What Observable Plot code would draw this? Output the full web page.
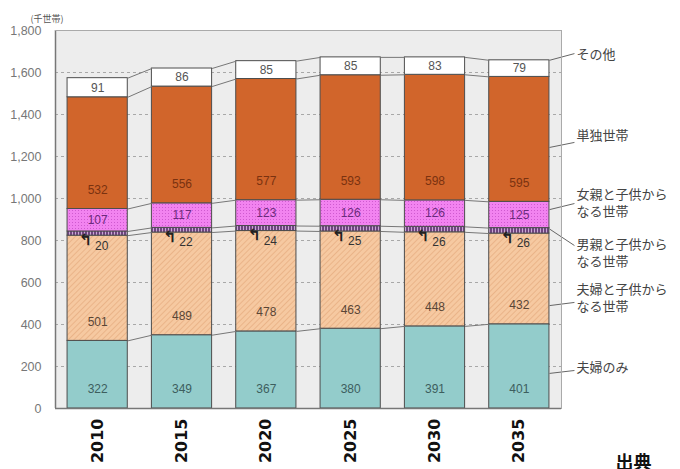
<!DOCTYPE html>
<html>
<head>
<meta charset="utf-8">
<script src="https://cdn.jsdelivr.net/npm/d3@7"></script>
<script src="https://cdn.jsdelivr.net/npm/@observablehq/plot@0.6"></script>
<style>
  html, body { margin: 0; padding: 0; background: #fff; }
  #chart { width: 680px; height: 469px; overflow: hidden; }
</style>
</head>
<body>
<div id="chart"></div>
<script>
// ---- data ----
const years = ["2010", "2015", "2020", "2025", "2030", "2035"];
const fufuOnly   = [322, 349, 367, 380, 391, 401];
const fufuKids   = [501, 489, 478, 463, 448, 432];
const fatherKids = [20, 22, 24, 25, 26, 26];
const motherKids = [107, 117, 123, 126, 126, 125];
const single     = [532, 556, 577, 593, 598, 595];
const other      = [91, 86, 85, 85, 83, 79];
const seriesNames = ["夫婦のみ", "夫婦と子供から\nなる世帯", "男親と子供から\nなる世帯", "女親と子供から\nなる世帯", "単独世帯", "その他"];
const yTicks = [0, 200, 400, 600, 800, 1000, 1200, 1400, 1600, 1800];
const unitLabel = "(千世帯)";
const sourceLabel = "出典";

const seriesValues = [fufuOnly, fufuKids, fatherKids, motherKids, single, other];

// ---- styles (per series, same order) ----
const styles = [
  {fill: "#93cccb", label: "#3d5e5e", mode: "base"},
  {fill: "url(#hatch)", label: "#5a4636", mode: "base"},
  {fill: "url(#male)", label: "#333333", mode: "below"},
  {fill: "url(#dots)", label: "#6b2a7c", mode: "middle"},
  {fill: "#d1652b", label: "#7a3210", mode: "base"},
  {fill: "#ffffff", label: "#555555", mode: "middle"}
];
// right-hand legend: leader start (value within last bar), leader end and text (data units)
const legendPos = [
  {from: 167, to: 181, text: 195},
  {from: 490, to: 505, text: 524},
  {from: 855, to: 776, text: 738},
  {from: 947, to: 976, text: 976},
  {from: 1243, to: 1267, text: 1300},
  {from: null, to: 1690, text: 1684}
];

// ---- derived table ----
const segments = [];
years.forEach((year, i) => {
  let cum = 0;
  seriesValues.forEach((vals, s) => {
    const v = vals[i];
    segments.push({i, year, s, value: v, y1: cum, y2: cum + v});
    cum += v;
  });
});
const hw = 0.357; // half bar width in band units
const seg = (i, s) => segments.find(d => d.i === i && d.s === s);

const connectors = [];
for (let i = 0; i < years.length - 1; i++) {
  for (let s = 0; s < seriesValues.length; s++) {
    connectors.push({x1: i + hw, x2: i + 1 - hw, y1: seg(i, s).y2, y2: seg(i + 1, s).y2});
  }
}

const last = years.length - 1;
const pxUnit = 1 / ((561 - 55) / years.length);
const legend = seriesNames.map((name, s) => ({
  name,
  from: legendPos[s].from == null ? seg(last, s).y2 : legendPos[s].from,
  to: legendPos[s].to,
  text: legendPos[s].text
}));
const legendLines = [];
legend.forEach(d => {
  const parts = d.name.split("\n");
  parts.forEach((t, k) => legendLines.push({t, y: d.text, off: (k - (parts.length - 1) / 2) * 17}));
});

const cjk = "'Noto Sans CJK JP', 'Noto Sans', sans-serif";

const marks = [
  Plot.frame({fill: "#ededed", stroke: null}),
  Plot.gridY(yTicks.filter(t => t > 0 && t < 1800), {stroke: "#a8a8a8", strokeOpacity: 1, strokeDasharray: "3,3"}),
  ...styles.map((st, s) => Plot.rect(segments.filter(d => d.s === s), {
    x1: d => d.i - hw, x2: d => d.i + hw, y1: "y1", y2: "y2",
    fill: st.fill, stroke: "#4d4d4d", strokeWidth: 1
  })),
  Plot.link(connectors, {x1: "x1", x2: "x2", y1: "y1", y2: "y2", stroke: "#777", strokeWidth: 1}),
  // value labels
  ...styles.map((st, s) => {
    const data = segments.filter(d => d.s === s);
    if (st.mode === "base") return Plot.text(data, {x: "i", y: "y1", dy: -19, text: d => String(d.value), fill: st.label, fontSize: 12});
    if (st.mode === "middle") return Plot.text(data, {x: "i", y: d => (d.y1 + d.y2) / 2, text: d => String(d.value), fill: st.label, fontSize: 12});
    return Plot.text(data, {x: "i", y: "y1", dy: 10, dx: 4, text: d => String(d.value), fill: st.label, fontSize: 12});
  }),
  Plot.text(segments.filter(d => d.s === 2), {x: "i", y: "y1", dx: -12, dy: 4, text: () => "↰", fill: "#222", fontSize: 16, fontWeight: "bold", fontFamily: "DejaVu Sans"}),
  // legend leaders and texts
  Plot.link(legend, {x1: last + hw, x2: last + hw + 25 * pxUnit, y1: "from", y2: "to", stroke: "#666", strokeWidth: 1}),
  ...legendLines.map(l => Plot.text([l], {x: last + hw + 27 * pxUnit, y: "y", dy: l.off, text: "t", textAnchor: "start", fontSize: 13, fill: "#444", fontFamily: cjk})),
  // axes
  Plot.axisY(yTicks, {tickSize: 0, tickPadding: 14, tickFormat: d3.format(","), fontSize: 12.5, fill: "#777", label: null}),
  Plot.axisX(d3.range(years.length), {tickSize: 0, tickPadding: 10, tickRotate: -90, tickFormat: i => years[i], fontSize: 16, fontWeight: "bold", fill: "#111", label: null, fontFamily: "'DejaVu Sans', sans-serif"}),
  Plot.ruleX([-0.5], {stroke: "#777", strokeWidth: 1.5}),
  Plot.ruleY([0], {stroke: "#777", strokeWidth: 1.5}),
  Plot.frame({stroke: "#aaa", anchor: "top"}),
  Plot.frame({stroke: "#aaa", anchor: "right"}),
  Plot.text([unitLabel], {frameAnchor: "top-left", dx: -25, dy: -15, fontSize: 9, fill: "#555", fontFamily: cjk}),
  Plot.text([sourceLabel], {frameAnchor: "bottom-right", dx: 90, dy: 60, fontSize: 18, fontWeight: "bold", fill: "#111", fontFamily: cjk})
];

const chart = Plot.plot({
  width: 680,
  height: 469,
  marginTop: 30,
  marginBottom: 61,
  marginLeft: 55,
  marginRight: 119,
  x: {type: "linear", domain: [-0.5, years.length - 0.5], axis: null},
  y: {domain: [0, 1800], axis: null},
  style: {fontFamily: "'Liberation Sans', Arial, sans-serif", background: "white", overflow: "visible"},
  marks
});

d3.select(chart).insert("defs", ":first-child").html(`
  <pattern id="hatch" width="4" height="4" patternUnits="userSpaceOnUse" patternTransform="rotate(45)">
    <rect width="4" height="4" fill="#f6c9a1"/>
    <line x1="0" y1="0" x2="0" y2="4" stroke="#e3a678" stroke-width="1.2"/>
  </pattern>
  <pattern id="dots" width="3" height="3" patternUnits="userSpaceOnUse">
    <rect width="3" height="3" fill="#f283f0"/>
    <rect width="1" height="1" fill="#cf5ad0"/>
  </pattern>
  <pattern id="male" width="3" height="4" patternUnits="userSpaceOnUse">
    <rect width="3" height="4" fill="#6f4580"/>
    <rect width="1" height="4" fill="#c9a8d4"/>
  </pattern>
`);

document.getElementById("chart").appendChild(chart);
</script>
</body>
</html>
